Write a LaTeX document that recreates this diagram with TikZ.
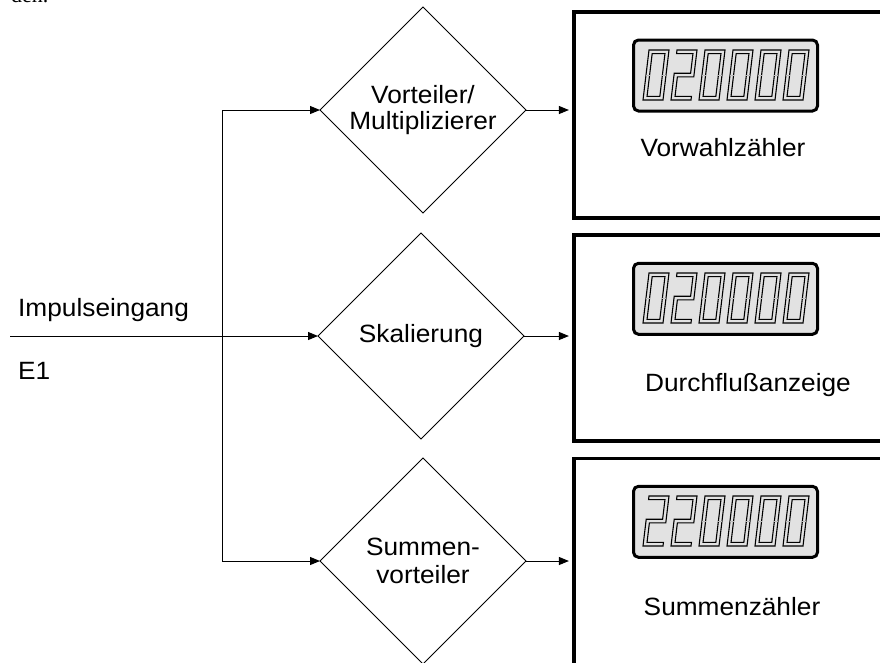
\documentclass[tikz,border=0pt]{standalone}
\usepackage{fontspec}
\setmainfont{Liberation Sans}[FakeStretch=1.05]
\newfontfamily\serifdoc{Liberation Serif}
\usetikzlibrary{shapes.geometric,arrows.meta}
\definecolor{lcdgray}{RGB}{226,226,226}
\newcommand{\digZero}[2]{%
  \begin{scope}[shift={(#1,#2)}, xslant=0.12]
    \draw[seg] (0,0) rectangle (20,-50);
    \draw[seg] (3.6,-3.6) rectangle (16.4,-46.4);
    \draw[sepline] (0,-25) -- (3.6,-25) (16.4,-25) -- (20,-25);
  \end{scope}}
\newcommand{\digTwo}[2]{%
  \begin{scope}[shift={(#1,#2)}, xslant=0.12]
    \draw[seg] (0,-50) -- (20,-50) -- (20,-23.2) -- (3.6,-23.2) -- (3.6,-3.6) -- (20,-3.6)
      -- (20,0) -- (0,0) -- (0,-26.8) -- (16.4,-26.8) -- (16.4,-46.4) -- (0,-46.4) -- cycle;
  \end{scope}}
\tikzset{
  lbl/.style={font=\fontsize{25}{27}\selectfont, inner sep=0pt},
  dia/.style={diamond, draw, line width=1pt, minimum width=206pt, minimum height=206pt,
    inner sep=0pt, outer sep=0pt, aspect=1, align=center, font=\fontsize{25}{26.5}\selectfont},
  bigbox/.style={draw, line width=3.2pt, minimum width=330pt, minimum height=206pt, inner sep=0pt},
  lcd/.style={draw, line width=3pt, rounded corners=5pt, fill=lcdgray,
    minimum width=184pt, minimum height=71pt, inner sep=0pt},
  conn/.style={line width=1pt},
  arr/.style={conn, -{Triangle[length=10pt,width=8pt]}},
  seg/.style={line width=1.1pt, line join=miter},
  sepline/.style={line width=0.5pt, gray!55},
}
\begin{document}
\begin{tikzpicture}[x=1pt, y=-1pt]
\useasboundingbox (0,0) rectangle (880,662);
\clip (0,0) rectangle (880,662);

\node[anchor=base west, inner sep=0pt, font=\serifdoc\fontsize{22}{22}\selectfont] (den) at (11,2) {den.};

% diamonds
\node[dia] (d1) at (423,110) {Vorteiler/\\Multiplizierer};
\node[dia] (d2) at (421,336) {Skalierung};
\node[dia, font=\fontsize{25}{28}\selectfont] (d3) at (423,561) {Summen-\\vorteiler};

% big boxes
\node[bigbox] (b1) at (739,115) {};
\node[bigbox] (b2) at (739,338) {};
\node[bigbox] (b3) at (739,561.3) {};

% displays
\node[lcd] (l1) at (725.5,75.5) {};
\node[lcd] (l2) at (725.5,298.8) {};
\node[lcd] (l3) at (725.5,521.8) {};

\digZero{643}{100}\digTwo{671}{100}\digZero{699}{100}\digZero{727}{100}\digZero{755}{100}\digZero{783}{100}
\digZero{643}{323}\digTwo{671}{323}\digZero{699}{323}\digZero{727}{323}\digZero{755}{323}\digZero{783}{323}
\digTwo{643}{546}\digTwo{671}{546}\digZero{699}{546}\digZero{727}{546}\digZero{755}{546}\digZero{783}{546}

% labels
\node[lbl, anchor=base] (t1) at (723,156) {Vorwahlzähler};
\node[lbl, anchor=base] (t2) at (748,391.7) {Durchflußanzeige};
\node[lbl, anchor=base] (t3) at (732,615) {Summenzähler};
\node[lbl, anchor=base west] (imp) at (18,316) {Impulseingang};
\node[lbl, anchor=base west] (e1) at (18,379) {E1};

% connectors
\coordinate (in) at (10,336);
\coordinate (ja) at (222,110);
\coordinate (jb) at (222,561);
\draw[conn] (ja) -- (jb);
\draw[arr] (ja) -- (d1.west);
\draw[arr] (in) -- (d2.west);
\draw[arr] (jb) -- (d3.west);
\draw[arr, shorten >=3.5pt] (d1.east) -- (d1.east -| b1.west);
\draw[arr, shorten >=3.5pt] (d2.east) -- (d2.east -| b2.west);
\draw[arr, shorten >=3.5pt] (d3.east) -- (d3.east -| b3.west);
\end{tikzpicture}
\end{document}
